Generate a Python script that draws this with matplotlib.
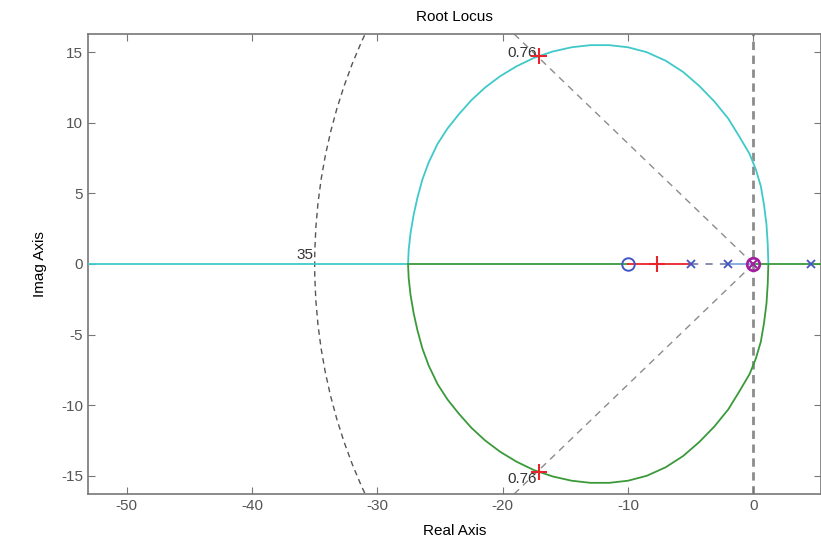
import matplotlib
matplotlib.use("Agg")
import matplotlib.pyplot as plt
from matplotlib.patches import Circle

plt.rcParams['font.family'] = ['Liberation Sans', 'DejaVu Sans']
plt.rcParams['axes.unicode_minus'] = False

# upper branch of the locus (cyan)
upper_x = [-27.55, -27.5, -27.35, -27.1, -26.8, -26.4, -25.9, -25.2, -24.4, -23.5,
           -22.5, -21.4, -20.2, -18.9, -17.5, -16.0, -14.5, -13.0, -11.5, -10.0,
           -8.5, -7.0, -5.6, -4.3, -3.1, -2.0, -1.1, -0.3, 0.2, 0.6,
           0.85, 1.05, 1.15, 1.2]
upper_y = [0.0, 1.0, 2.2, 3.5, 4.7, 6.0, 7.2, 8.5, 9.6, 10.6,
           11.6, 12.5, 13.3, 14.0, 14.6, 15.05, 15.35, 15.5, 15.5, 15.35,
           15.0, 14.4, 13.6, 12.6, 11.5, 10.3, 9.0, 7.8, 6.7, 5.5,
           4.2, 2.8, 1.4, 0.0]
# lower branch (green)
lower_x = [-27.55, -27.5, -27.35, -27.1, -26.8, -26.4, -25.9, -25.2, -24.4, -23.5,
           -22.5, -21.4, -20.2, -18.9, -17.5, -16.0, -14.5, -13.0, -11.5, -10.0,
           -8.5, -7.0, -5.6, -4.3, -3.1, -2.0, -1.1, -0.3, 0.2, 0.6,
           0.85, 1.05, 1.15, 1.2]
lower_y = [0.0, -1.0, -2.2, -3.5, -4.7, -6.0, -7.2, -8.5, -9.6, -10.6,
           -11.6, -12.5, -13.3, -14.0, -14.6, -15.05, -15.35, -15.5, -15.5, -15.35,
           -15.0, -14.4, -13.6, -12.6, -11.5, -10.3, -9.0, -7.8, -6.7, -5.5,
           -4.2, -2.8, -1.4, 0.0]

# real-axis segments
cyan_axis = [-53.1, -27.55]
green_axis = [-27.55, -10.0]
red_axis = [-10.0, -5.0]
gray_axis = [-5.0, -2.0]
blue_axis = [-2.0, 0.0]
green_right = [0.0, 5.4]

poles_x = [-5.0, -2.0, 4.6]
zeros_x = [-10.0]
origin_x = [0.0]
chosen_x = [-7.7, -17.1, -17.1]
chosen_y = [0.0, 14.7, -14.7]

zeta_label = '0.76'
zeta_end_x = [-19.1, -19.1]
zeta_end_y = [16.3, -16.3]
wn_value = 35

fig = plt.figure(figsize=(8.21, 5.46), dpi=100)
ax = fig.add_axes([0.107, 0.095, 0.893, 0.843])

gray = '#8c8c8c'
cyan = '#3fc9c9'
green = '#3a9a3a'
red = '#e8242c'
blue = '#4455c4'

# grid lines (damping and natural frequency)
ax.axvline(0, color=gray, ls=(0, (3, 2)), lw=2.0, zorder=1)
for ex, ey in zip(zeta_end_x, zeta_end_y):
    ax.plot([0, ex], [0, ey], color=gray, ls=(0, (5, 4)), lw=1.0, zorder=1)
ax.add_patch(Circle((0, 0), wn_value, fill=False, ec='#555555', ls=(0, (4, 3)), lw=1.0, zorder=1))

ax.text(-17.3, 14.95, zeta_label, ha='right', va='center', fontsize=11, color='#333333')
ax.text(-17.3, -15.2, zeta_label, ha='right', va='center', fontsize=11, color='#333333')
ax.text(-35.1, 0.15, str(wn_value), ha='right', va='bottom', fontsize=11, color='#333333')

# locus
ax.plot(cyan_axis, [0, 0], color=cyan, lw=1.3, zorder=3)
ax.plot(green_axis, [0, 0], color=green, lw=1.3, zorder=3)
ax.plot(red_axis, [0, 0], color=red, lw=1.3, zorder=3)
ax.plot(gray_axis, [0, 0], color='#7f86a8', ls=(0, (4, 4)), lw=1.3, zorder=3)
ax.plot(blue_axis, [0, 0], color='#7fa8e0', lw=1.3, zorder=3)
ax.plot(green_right, [0, 0], color=green, lw=1.3, zorder=3)
ax.plot(upper_x, upper_y, color=cyan, lw=1.3, zorder=3)
ax.plot(lower_x, lower_y, color=green, lw=1.3, zorder=3)

# markers
ax.plot(poles_x, [0] * len(poles_x), 'x', color=blue, ms=6, mew=1.3, zorder=5)
ax.plot(zeros_x, [0] * len(zeros_x), 'o', mfc='none', mec=blue, ms=9, mew=1.4, zorder=5)
ax.plot(origin_x, [0], 'o', mfc='none', mec='#a020a0', ms=9, mew=2.0, zorder=5)
ax.plot(origin_x, [0], 'x', color='#a020a0', ms=6, mew=1.5, zorder=5)
ax.plot(chosen_x, chosen_y, '+', color=red, ms=12, mew=1.5, zorder=6)

ax.set_xlim(-53.1, 5.4)
ax.set_ylim(-16.3, 16.3)
ax.set_xticks([-50, -40, -30, -20, -10, 0])
ax.set_yticks([-15, -10, -5, 0, 5, 10, 15])
ax.tick_params(direction='in', top=True, right=True, length=5, color='#777777',
               labelcolor='#555555', labelsize=11)
for sp in ax.spines.values():
    sp.set_color('#777777')
    sp.set_linewidth(1.2)

ax.set_title('Root Locus', fontsize=11, pad=9)
ax.set_xlabel('Real Axis', fontsize=11, labelpad=8)
ax.set_ylabel('Imag Axis', fontsize=11, labelpad=10)

fig.savefig('out.png', dpi=100)
